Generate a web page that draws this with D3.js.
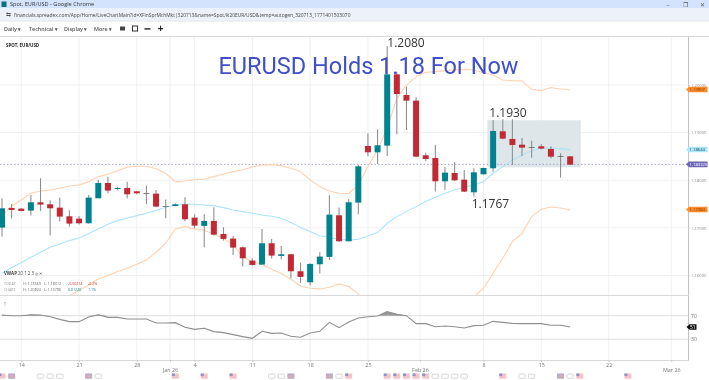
<!DOCTYPE html>
<html><head><meta charset="utf-8">
<script src="https://cdn.jsdelivr.net/npm/d3@7/dist/d3.min.js"></script>
<style>html,body{margin:0;padding:0;background:#fff;overflow:hidden}svg{display:block;filter:blur(.35px)}text{font-family:"Open Sans","Noto Sans",sans-serif}</style>
</head><body><svg id="c" width="709" height="380"></svg>
<script>
const opens=[1.17004,1.17417,1.17403,1.17361,1.17536,1.17494,1.17424,1.17242,1.17193,1.17095,1.1762,1.17942,1.17816,1.17837,1.17767,1.1773,1.17718,1.17455,1.17459,1.17494,1.17214,1.17039,1.17144,1.16871,1.16773,1.16591,1.16311,1.16227,1.16675,1.16409,1.16444,1.16087,1.15856,1.16234,1.16388,1.17263,1.16717,1.17529,1.18719,1.18586,1.18726,1.20224,1.1979,1.19671,1.18523,1.18467,1.17977,1.18152,1.18012,1.17746,1.18124,1.1825,1.19027,1.18866,1.18747,1.18695,1.18712,1.18656,1.18506,1.18502];
const highs=[1.1762,1.17501,1.1741,1.1769,1.1804,1.17578,1.17634,1.17368,1.17249,1.1769,1.18005,1.18075,1.17865,1.1797,1.17774,1.17886,1.17795,1.17592,1.17508,1.17641,1.17284,1.17284,1.17431,1.17011,1.16829,1.16605,1.16353,1.16976,1.16766,1.16619,1.16451,1.16269,1.16255,1.16486,1.17683,1.17424,1.17599,1.1832,1.18985,1.19069,1.20819,1.2028,1.19965,1.19741,1.18579,1.18747,1.18285,1.18383,1.18215,1.1825,1.18264,1.19265,1.19279,1.19279,1.18887,1.18831,1.18761,1.18712,1.18565,1.18509];
const lows=[1.16815,1.17193,1.17347,1.17256,1.17354,1.16839,1.1713,1.17025,1.17067,1.17088,1.1762,1.17725,1.17788,1.17613,1.17704,1.17501,1.17431,1.172,1.17452,1.17137,1.1699,1.16591,1.16836,1.16731,1.1643,1.16185,1.16206,1.16227,1.16353,1.16339,1.15933,1.15842,1.15786,1.16038,1.16325,1.16703,1.16717,1.17284,1.18502,1.18341,1.18509,1.18964,1.19055,1.18488,1.18397,1.1776,1.17795,1.17984,1.17753,1.17655,1.18117,1.1818,1.18859,1.1832,1.18509,1.18474,1.18649,1.1846,1.18054,1.1832];
const closes=[1.1741,1.17375,1.17354,1.17536,1.17487,1.1741,1.17235,1.17088,1.17095,1.17634,1.17942,1.17781,1.17837,1.17704,1.17725,1.17722,1.17445,1.17448,1.17494,1.17179,1.17046,1.17144,1.16857,1.16766,1.16584,1.1636,1.1622,1.16675,1.16416,1.16444,1.16087,1.15968,1.16241,1.16395,1.17277,1.16717,1.17536,1.18292,1.18586,1.18733,1.20224,1.19811,1.19671,1.18495,1.18446,1.17977,1.18159,1.17998,1.1776,1.18166,1.18257,1.19034,1.18873,1.1874,1.18684,1.18687,1.18663,1.18495,1.18498,1.18327];
const upperBand=[1.17249,1.17459,1.17585,1.17725,1.17774,1.17795,1.1783,1.17879,1.179,1.1797,1.18075,1.18124,1.18201,1.18271,1.18292,1.18292,1.18243,1.18145,1.1797,1.17984,1.18012,1.18019,1.18075,1.18131,1.1818,1.18215,1.18285,1.18313,1.18327,1.18306,1.1825,1.1818,1.18005,1.17865,1.17774,1.17725,1.17718,1.179,1.18285,1.18635,1.1909,1.1972,1.2,1.20175,1.20266,1.2028,1.20301,1.20315,1.20329,1.20315,1.20259,1.2021,1.20105,1.20091,1.20084,1.19909,1.19881,1.19944,1.19916,1.19895];
const midBand=[1.16045,1.16164,1.16269,1.16381,1.16486,1.16591,1.16661,1.16731,1.16787,1.16878,1.16976,1.17074,1.17151,1.172,1.17256,1.17305,1.17368,1.17431,1.1748,1.17501,1.17494,1.1748,1.17466,1.17424,1.17375,1.1734,1.17305,1.1727,1.17242,1.172,1.1711,1.17005,1.16921,1.16829,1.16801,1.16759,1.16738,1.16759,1.16829,1.16899,1.17095,1.17235,1.1734,1.17445,1.1755,1.17641,1.17725,1.17795,1.17851,1.179,1.1797,1.18145,1.18285,1.18425,1.1853,1.18614,1.1867,1.18677,1.18663,1.18642];
const lowerBand=[1.1484,1.1487,1.1495,1.1504,1.152,1.1535,1.1549,1.15576,1.15681,1.158,1.15926,1.15996,1.1608,1.1615,1.16234,1.16325,1.16486,1.16675,1.16976,1.17025,1.16976,1.16948,1.16864,1.1678,1.1664,1.16395,1.1629,1.16227,1.16129,1.16045,1.15919,1.15779,1.1573,1.15716,1.15751,1.15821,1.15765,1.15611,1.1537,1.1516,1.151,1.1475,1.1468,1.1472,1.1483,1.15,1.1515,1.1528,1.1537,1.1555,1.1573,1.16045,1.1636,1.1671,1.16885,1.17235,1.17389,1.17438,1.17417,1.17375];
const rsiValues=[71.1,70,70,71.7,71.1,68.3,63.8,59.9,59.9,67.7,71.7,67.2,67.2,64.4,64.4,64.4,57.6,57.6,58.2,50.3,46.9,48.6,43,41.3,37.9,34.5,31.7,43.5,40.1,40.7,35.1,33.4,40.7,43.5,58.7,49.7,59.3,66,68.3,69.4,76.8,72.3,70,56.5,56.5,51.4,52.5,51.4,49.2,53.1,53.7,60.4,58.7,57,56.5,56.5,56.5,53.7,53.7,50.8];
const priceTicks=[1.16,1.17,1.18,1.19,1.2];
const rsiTicks=[70,30];
const dateLabels=["14","21","28","4","11","18","25","8","15","22"];
const dateBars=[2,8,14,20,26,32,38,50,56,63];
const monthLabels=["Jan 26","Feb 26","Mar 26"];
const monthBars=[17.45,43.4,69.5];
const usFlags=[0,18,21,24,36,40,41,42,43,44,52,60,65];
const ukFlags=[1,9,30,34,58];
const plainFlags=[4,5,6,10,28,29,35,45,46,47,48,54,55,59];
const priceTags=[{v:1.19907,l:"1.19907",c:"#ff8a26",t:"#7a3c00"},{v:1.18644,l:"1.18644",c:"#a9e5fb",t:"#27505f"},{v:1.183325,l:"1.183325",c:"#6e68b8",t:"#fff"},{v:1.17384,l:"1.17384",c:"#ff8a26",t:"#7a3c00"}];
const currentPrice=1.183325, rsiLast=50.8;

const svg=d3.select("#c");
const x=d3.scaleLinear().domain([0,60]).range([2,579.8]);
const y=d3.scaleLinear().domain([1.2,1.16]).range([85,275.4]);
const yr=d3.scaleLinear().domain([70,30]).range([315.7,339.3]);
const idx=d3.range(opens.length);
const TEAL="#01838f",RED="#c12a35",WICK="#8f8f8f",GRID="#f1f1f1",PANEL="#d8d8d8";

// browser chrome
svg.append("rect").attr("width",709).attr("height",8.5).attr("fill","#d3e3fd");
svg.append("rect").attr("y",8.5).attr("width",709).attr("height",12).attr("fill","#edf2fa");
svg.append("rect").attr("y",20.5).attr("width",709).attr("height",1).attr("fill","#dfe3e8");
svg.append("rect").attr("x",1.5).attr("y",1.5).attr("width",5).attr("height",5.5).attr("fill","#0f6f7f");
svg.append("text").attr("x",10).attr("y",6.4).attr("font-size",5.6).attr("fill","#333").text("Spot, EUR/USD - Google Chrome");
svg.append("text").attr("x",14).attr("y",16.6).attr("font-size",4.9).attr("fill","#444").text("financials.spreadex.com/App/Home/LiveChartMain?id=XFinSprMchMkt|320713&name=Spot,%20EUR/USD&temp=autogen_320713_1771401503070");
svg.append("text").attr("x",6).attr("y",17).attr("font-size",6).attr("fill","#555").text("⇆");
[["–",668],["❐",685],["✕",702]].forEach(d=>svg.append("text").attr("x",d[1]).attr("y",6.5).attr("font-size",6).attr("fill","#555").attr("text-anchor","middle").text(d[0]));
[["Daily ▾",4],["Technical ▾",29],["Display ▾",64],["More ▾",94]].forEach(d=>svg.append("text").attr("x",d[1]).attr("y",31).attr("font-size",5.4).attr("font-weight",600).attr("fill","#555").text(d[0]));
svg.append("rect").attr("x",120).attr("y",26.5).attr("width",5).attr("height",4).attr("fill","#444");
svg.append("rect").attr("x",132.5).attr("y",26).attr("width",5).attr("height",5).attr("fill","none").attr("stroke","#333");
svg.append("rect").attr("x",144.5).attr("y",28.2).attr("width",6).attr("height",1.4).attr("fill","#222");
svg.append("text").attr("x",160.5).attr("y",32).attr("font-size",10).attr("font-weight",700).attr("text-anchor","middle").attr("fill","#222").text("+");
svg.append("line").attr("x1",0).attr("x2",709).attr("y1",36.5).attr("y2",36.5).attr("stroke",PANEL);

// grids
const allBars=dateBars.concat(monthBars);
svg.append("g").selectAll("line").data(allBars).join("line").attr("x1",d=>x(d)).attr("x2",d=>x(d)).attr("y1",37).attr("y2",360).attr("stroke",GRID);
svg.append("g").selectAll("line").data(priceTicks).join("line").attr("x1",0).attr("x2",688).attr("y1",d=>y(d)).attr("y2",d=>y(d)).attr("stroke",GRID);
svg.append("g").selectAll("line").data(rsiTicks).join("line").attr("x1",0).attr("x2",688).attr("y1",d=>yr(d)).attr("y2",d=>yr(d)).attr("stroke","#dedede");

// panel borders
svg.append("line").attr("x1",688.5).attr("x2",688.5).attr("y1",37).attr("y2",360).attr("stroke","#c4c4c4");
[295,360].forEach(v=>svg.append("line").attr("x1",0).attr("x2",689).attr("y1",v+.5).attr("y2",v+.5).attr("stroke",PANEL));

svg.append("defs").append("clipPath").attr("id","pane").append("rect").attr("x",0).attr("y",37).attr("width",688).attr("height",258);
const pane=svg.append("g").attr("clip-path","url(#pane)");

// highlight zone
pane.append("rect").attr("x",x(50.4)).attr("width",x(60.1)-x(50.4)).attr("y",y(1.1926)).attr("height",y(1.1827)-y(1.1926)).attr("fill","#dde7ea");
// current price
pane.append("line").attr("x1",0).attr("x2",688).attr("y1",y(currentPrice)).attr("y2",y(currentPrice)).attr("stroke","#a8a4d6").attr("stroke-dasharray","1.5,2");

// bands
const ln=a=>d3.line().x((d,i)=>x(i)).y(d=>y(d))(a);
pane.append("path").attr("d",ln(upperBand)).attr("fill","none").attr("stroke","#ffd2b0").attr("stroke-width",1.1);
pane.append("path").attr("d",ln(lowerBand)).attr("fill","none").attr("stroke","#ffd2b0").attr("stroke-width",1.1);
pane.append("path").attr("d",ln(midBand)).attr("fill","none").attr("stroke","#ace4fb").attr("stroke-width",1.1);

// candles
const candle=pane.append("g").selectAll("g").data(idx).join("g");
candle.append("line").attr("x1",i=>x(i)).attr("x2",i=>x(i)).attr("y1",i=>y(highs[i])).attr("y2",i=>y(lows[i])).attr("stroke",WICK).attr("stroke-width",1.1);
candle.append("rect").attr("x",i=>x(i)-3).attr("width",6)
  .attr("y",i=>y(Math.max(opens[i],closes[i])))
  .attr("height",i=>Math.max(y(Math.min(opens[i],closes[i]))-y(Math.max(opens[i],closes[i])),.8))
  .attr("fill",i=>Math.abs(opens[i]-closes[i])<0.0001?"#666":(closes[i]>opens[i]?TEAL:RED));

// annotations
svg.append("text").attr("x",368.5).attr("y",73.5).attr("text-anchor","middle").attr("font-size",23.5).attr("fill","#3f4fc9").style("font-family","Roboto").text("EURUSD Holds 1.18 For Now");
[["1.2080",406,47],["1.1930",508,117],["1.1767",490.4,208]].forEach(d=>svg.append("text").attr("x",d[1]).attr("y",d[2]).attr("text-anchor","middle").attr("font-size",12).attr("fill","#333").text(d[0]));

// labels
svg.append("text").attr("x",6).attr("y",47).attr("font-size",4.4).attr("font-weight",700).attr("fill","#222").text("SPOT, EUR/USD");
svg.append("text").attr("x",4).attr("y",275).attr("font-size",4.4).attr("fill","#444").html('<tspan font-weight="700">VWAP</tspan> 20 1 2 3  ◎  ✕');
[["TODAY","1.18569","1.18312","-0.00214","-0.2%",285,"#c12a35"],["CHART","1.20824","1.15786","0.01220","1.1%",290.5,"#01838f"]].forEach(r=>{
  const g=svg.append("g").attr("font-size",3.6).attr("fill","#999");
  g.append("text").attr("x",4).attr("y",r[5]).text(r[0]);
  g.append("text").attr("x",23).attr("y",r[5]).attr("fill","#666").text("H: "+r[1]);
  g.append("text").attr("x",44).attr("y",r[5]).attr("fill","#666").text("L: "+r[2]);
  g.append("text").attr("x",68).attr("y",r[5]).attr("fill",r[6]).text(r[3]);
  g.append("text").attr("x",88).attr("y",r[5]).attr("fill",r[6]).text(r[4]);
});

// price axis + tags
const pa=svg.append("g").attr("transform","translate(688,0)").call(d3.axisRight(y).tickValues(priceTicks).tickFormat(d3.format(".5f")).tickSize(2));
pa.select(".domain").remove();pa.selectAll("line").attr("stroke","#ccc");
pa.selectAll("text").attr("font-size",4.2).attr("fill","#8a8a8a").attr("x",3);
const tag=svg.append("g").selectAll("g").data(priceTags).join("g").attr("transform",d=>`translate(686,${y(d.v)})`);
tag.append("path").attr("d","M0,0L3,-2.8H21.5V2.8H3Z").attr("fill",d=>d.c);
tag.append("text").attr("x",3.5).attr("y",1.6).attr("font-size",4.2).attr("fill",d=>d.t).text(d=>d.l);

// RSI
const rsiG=svg.append("g");
rsiG.append("text").attr("x",5).attr("y",306).attr("font-size",7).attr("text-anchor","middle").attr("fill","#777").text("↑");
const rsiArea=d3.area().x((d,i)=>x(i)).y0(yr(70)).y1(d=>yr(Math.max(d,70)));
rsiG.append("path").attr("d",rsiArea(rsiValues)).attr("fill","#9a9a9a");
rsiG.append("path").attr("d",d3.line().x((d,i)=>x(i)).y(d=>yr(d))(rsiValues)).attr("fill","none").attr("stroke","#8e8e8e").attr("stroke-width",1.1);
const ra=svg.append("g").attr("transform","translate(688,0)").call(d3.axisRight(yr).tickValues(rsiTicks).tickSize(0));
ra.select(".domain").remove();
ra.selectAll("text").attr("font-size",5.2).attr("fill","#777").attr("x",3);
const rt=svg.append("g").attr("transform",`translate(686.5,${yr(rsiLast)})`);
rt.append("path").attr("d","M0,0L3,-2.8H10V2.8H3Z").attr("fill","#111");
rt.append("text").attr("x",3.5).attr("y",1.8).attr("font-size",4.8).attr("fill","#fff").text(d3.format(".0f")(rsiLast));

// date axis
const da=svg.append("g").attr("transform","translate(0,360)").call(d3.axisBottom(x).tickValues(dateBars).tickFormat((d,i)=>dateLabels[i]).tickSize(2));
da.select(".domain").remove();da.selectAll("line").attr("stroke","#ccc");
da.selectAll("text").attr("font-size",5.4).attr("fill","#777").attr("y",3);
const ma=svg.append("g").attr("transform","translate(0,360)").call(d3.axisBottom(x).tickValues(monthBars).tickFormat((d,i)=>monthLabels[i]).tickSize(2));
ma.select(".domain").remove();ma.selectAll("line").attr("stroke","#ccc");
ma.selectAll("text").attr("font-size",5.4).attr("fill","#777").attr("y",8.5);

// calendar flags
const FY=373.5;
const us=svg.append("g").selectAll("g").data(usFlags).join("g").attr("transform",d=>`translate(${x(d)-3.5},${FY})`);
us.append("rect").attr("width",7).attr("height",5.2).attr("fill","#f4c4c6");
us.append("rect").attr("width",3).attr("height",2.6).attr("fill","#8b93c8");
const uk=svg.append("g").selectAll("g").data(ukFlags).join("g").attr("transform",d=>`translate(${x(d)-3.5},${FY})`);
uk.append("rect").attr("width",7).attr("height",5.2).attr("fill","#aab0cd");
uk.append("path").attr("d","M0,2.6H7M3.5,0V5.2").attr("stroke","#e7a9ad").attr("stroke-width",1.2);
svg.append("g").selectAll("rect").data(plainFlags).join("rect").attr("x",d=>x(d)-3.2).attr("y",FY+.6).attr("width",6.4).attr("height",4.2).attr("rx",1).attr("fill","#fff").attr("stroke","#bdbdbd").attr("stroke-width",.6);
</script></body></html>
